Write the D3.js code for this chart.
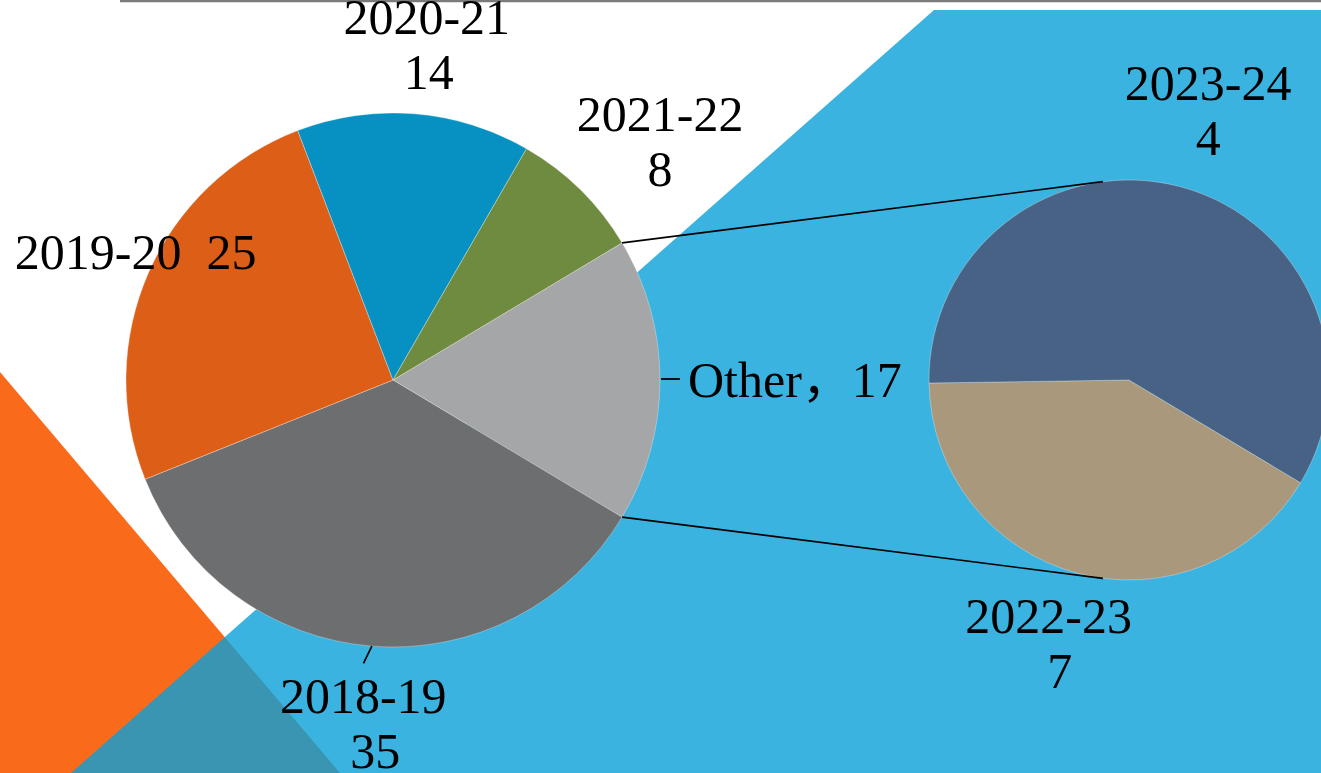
<!DOCTYPE html>
<html>
<head>
<meta charset="utf-8">
<script src="https://cdn.jsdelivr.net/npm/d3@7"></script>
<style>
  html, body { margin: 0; padding: 0; background: #ffffff; overflow: hidden; }
  svg { display: block; }
  text { font-family: "Liberation Serif", "Noto Sans CJK SC", serif; font-size: 50px; fill: #000; }
</style>
</head>
<body>
<svg id="chart" width="1321" height="773"></svg>
<script>
// ---- data ----
const primaryCategories = ["2018-19", "2019-20", "2020-21", "2021-22"];
const primaryValues = [35, 25, 14, 8];
const secondaryCategories = ["2022-23", "2023-24"];
const secondaryValues = [7, 10];          // slice sizes as drawn
const secondaryLabelValues = [7, 4];       // numbers printed on the labels
const otherLabel = "Other";

// ---- styles / layout ----
const W = 1321, H = 773;
const primaryColors = { "2018-19": "#6d6e70", "2019-20": "#dd5e17", "2020-21": "#0791c3", "2021-22": "#6e8b3f", "Other": "#a5a6a8" };
const secondaryColors = { "2022-23": "#a9987c", "2023-24": "#476285" };
const mainPie = { cx: 393, cy: 380, r: 267 };
const subPie = { cx: 1129, cy: 380, r: 200 };
const deg = Math.PI / 180;
// label placement: polar offset (deg from slice mid, distance from centre)
const labelLayout = {
  "2018-19": { da: 0.4, dist: 345, lines: 2, valueDx: 12 },
  "2019-20": { da: 2.6, dist: 287, lines: 1 },
  "2020-21": { da: 1.2, dist: 337, lines: 2, valueDx: 2 },
  "2021-22": { da: 3.7, dist: 358, lines: 2, valueDx: 0 },
  "2022-23": { da: 1.9, dist: 276, lines: 2, valueDx: 11 },
  "2023-24": { da: 1.4, dist: 280, lines: 2, valueDx: 0 }
};

const svg = d3.select("#chart");

// ---- background decoration ----
svg.append("line").attr("x1", 120).attr("x2", W).attr("y1", 1).attr("y2", 1)
  .attr("stroke", "#7b7b7b").attr("stroke-width", 2.5);
svg.append("polygon").attr("points", `0,372 340,${H} 0,${H}`).attr("fill", "#f96b1b");
svg.append("polygon").attr("points", `934,10 ${W},10 ${W},${H} 71,${H}`)
  .attr("fill", "rgb(9,160,216)").attr("fill-opacity", 0.8);

// ---- primary pie ----
const otherValue = d3.sum(secondaryValues);
const mainData = [{ key: otherLabel, value: otherValue, label: otherValue }]
  .concat(primaryCategories.map((c, i) => ({ key: c, value: primaryValues[i], label: primaryValues[i] })));
const total = d3.sum(mainData, d => d.value);
const otherSpan = otherValue / total * 2 * Math.PI;
const mainArcs = d3.pie().sort(null).value(d => d.value)
  .startAngle(Math.PI / 2 - otherSpan / 2)
  .endAngle(Math.PI / 2 - otherSpan / 2 + 2 * Math.PI)(mainData);
const arcMain = d3.arc().innerRadius(0).outerRadius(mainPie.r);

const gMain = svg.append("g").attr("transform", `translate(${mainPie.cx},${mainPie.cy})`);
gMain.selectAll("path").data(mainArcs).join("path")
  .attr("d", arcMain)
  .attr("fill", d => primaryColors[d.data.key])
  .attr("stroke", "#ffffff").attr("stroke-opacity", 0.5).attr("stroke-width", 0.6);

// ---- secondary pie ----
const otherArc = mainArcs[0];
const subData = secondaryCategories.map((c, i) => ({ key: c, value: secondaryValues[i], label: secondaryLabelValues[i] }));
const subArcs = d3.pie().sort(null).value(d => d.value)
  .startAngle(otherArc.endAngle).endAngle(otherArc.endAngle + 2 * Math.PI)(subData);
const arcSub = d3.arc().innerRadius(0).outerRadius(subPie.r);
const gSub = svg.append("g").attr("transform", `translate(${subPie.cx},${subPie.cy})`);
gSub.selectAll("path").data(subArcs).join("path")
  .attr("d", arcSub)
  .attr("fill", d => secondaryColors[d.data.key])
  .attr("stroke", "#ffffff").attr("stroke-opacity", 0.5).attr("stroke-width", 0.6);

// ---- connector lines ----
function polar(c, r, a) { return [c.cx + r * Math.sin(a), c.cy - r * Math.cos(a)]; }
const connOffset = 7.5 * deg;
const p1 = polar(mainPie, mainPie.r, otherArc.startAngle), q1 = polar(subPie, subPie.r, -connOffset);
const p2 = polar(mainPie, mainPie.r, otherArc.endAngle), q2 = polar(subPie, subPie.r, Math.PI + connOffset);
[[p1, q1], [p2, q2]].forEach(([p, q]) => {
  svg.append("line").attr("x1", p[0]).attr("y1", p[1]).attr("x2", q[0]).attr("y2", q[1])
    .attr("stroke", "#000").attr("stroke-width", 1.7);
});

// ---- labels ----
function drawLabel(center, arc, key, value) {
  const L = labelLayout[key];
  const a = (arc.startAngle + arc.endAngle) / 2 + L.da * deg;
  const [x, y] = polar(center, L.dist, a);
  const t = svg.append("text").attr("text-anchor", "middle");
  if (L.lines === 2) {
    t.append("tspan").attr("x", x).attr("y", y - 11).text(key);
    t.append("tspan").attr("x", x + L.valueDx).attr("y", y + 44).text(value);
  } else {
    t.attr("x", x).attr("y", y + 16).text(key + "\u00a0\u00a0" + value);
  }
}
mainArcs.slice(1).forEach(d => drawLabel(mainPie, d, d.data.key, d.data.label));
subArcs.forEach(d => drawLabel(subPie, d, d.data.key, d.data.label));

// leader lines
const otherMid = (otherArc.startAngle + otherArc.endAngle) / 2;
const oEdge = polar(mainPie, mainPie.r, otherMid);
svg.append("line").attr("x1", oEdge[0] + 1).attr("y1", oEdge[1] - 1).attr("x2", oEdge[0] + 20).attr("y2", oEdge[1] - 1)
  .attr("stroke", "#000").attr("stroke-width", 1.8);
svg.append("text").attr("x", oEdge[0] + 28).attr("y", oEdge[1] + 17).text(otherLabel + "\uff0c" + otherValue);

const a1819 = mainArcs.find(d => d.data.key === "2018-19");
const m1819 = (a1819.startAngle + a1819.endAngle) / 2;
const e1 = polar(mainPie, mainPie.r, m1819), e2 = polar(mainPie, mainPie.r + 18, m1819 + 1.4 * deg);
svg.append("line").attr("x1", e1[0]).attr("y1", e1[1]).attr("x2", e2[0]).attr("y2", e2[1])
  .attr("stroke", "#000").attr("stroke-width", 1.7);
</script>
</body>
</html>
